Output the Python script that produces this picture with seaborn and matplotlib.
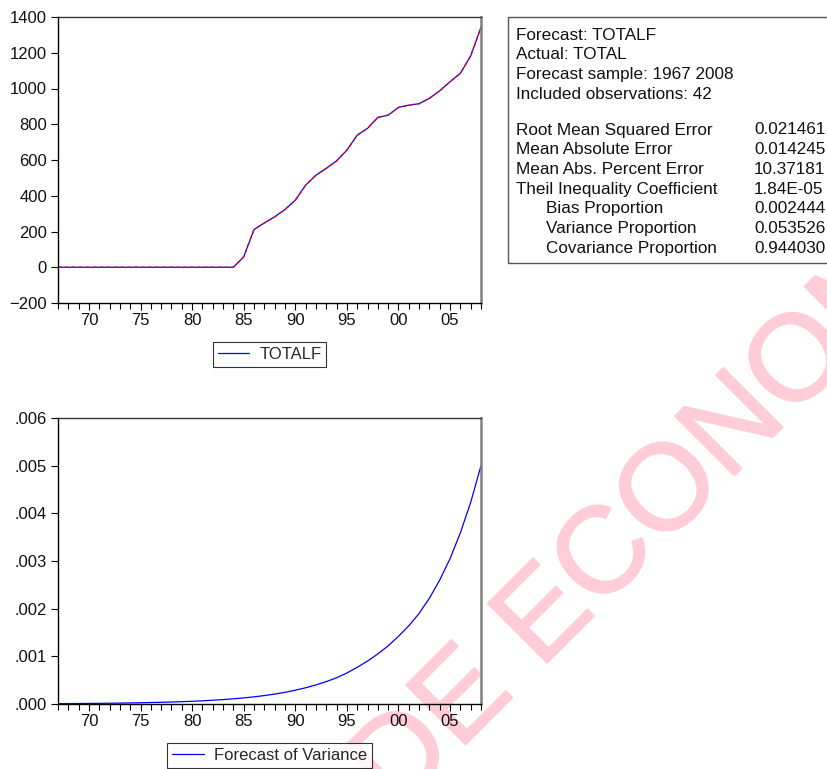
import numpy as np
import pandas as pd
import matplotlib
matplotlib.use("Agg")
import matplotlib.pyplot as plt
import matplotlib.patheffects as pe
from matplotlib.ticker import MultipleLocator, FuncFormatter
from matplotlib.patches import Rectangle
import seaborn as sns

years = list(range(1967, 2009))
totalf = [0] * 18 + [58, 211, 248, 282, 323, 375, 459, 515, 553, 595, 655, 739,
                     777, 838, 851, 894, 907, 915, 945, 987, 1038, 1085, 1182, 1343]
fc_variance = [0.000008, 0.000009, 0.000010, 0.000012, 0.000014, 0.000016, 0.000019, 0.000022,
               0.000026, 0.000031, 0.000036, 0.000042, 0.000049, 0.000057, 0.000067, 0.000079,
               0.000093, 0.000109, 0.000128, 0.000150, 0.000177, 0.000208, 0.000245, 0.000290,
               0.000340, 0.000400, 0.000470, 0.000550, 0.000650, 0.000770, 0.000900, 0.001050,
               0.001220, 0.001420, 0.001640, 0.001900, 0.002220, 0.002600, 0.003050, 0.003590,
               0.004230, 0.005000]

stats_head = ["Forecast: TOTALF", "Actual: TOTAL", "Forecast sample: 1967 2008",
              "Included observations: 42"]
stats_names = ["Root Mean Squared Error", "Mean Absolute Error", "Mean Abs. Percent Error",
               "Theil Inequality Coefficient", "Bias Proportion", "Variance Proportion",
               "Covariance Proportion"]
stats_values = ["0.021461", "0.014245", "10.37181", "1.84E-05", "0.002444", "0.053526",
                "0.944030"]
stats_indent = [False, False, False, False, True, True, True]

df = pd.DataFrame({"year": years, "TOTALF": totalf, "variance": fc_variance})

sns.set_theme(style="white")
plt.rcParams["font.family"] = ["Liberation Sans", "DejaVu Sans"]

W, H = 827, 769
fig = plt.figure(figsize=(W / 100, H / 100), dpi=100)


def px_axes(x0, y0, x1, y1):
    return fig.add_axes([x0 / W, 1 - y1 / H, (x1 - x0) / W, (y1 - y0) / H])


def style_axes(ax):
    ax.set_facecolor("none")
    ax.set_xlim(1967, 2008)
    ax.xaxis.set_major_locator(MultipleLocator(5))
    ax.xaxis.set_minor_locator(MultipleLocator(1))
    ax.xaxis.set_major_formatter(FuncFormatter(lambda v, p: "%02d" % (int(round(v)) % 100)))
    ax.tick_params(axis="both", which="major", direction="out", length=5, width=0.8,
                   color="black", labelsize=12, labelcolor="#111111", pad=3, bottom=True, left=True)
    ax.tick_params(axis="x", which="minor", direction="out", length=4, width=0.8,
                   color="black", bottom=True)
    ax.tick_params(axis="x", which="major", pad=2.5)
    for s in ["left", "bottom"]:
        ax.spines[s].set_color("black")
        ax.spines[s].set_linewidth(1.0)
    ax.spines["top"].set_color("#333333")
    ax.spines["top"].set_linewidth(1.0)
    ax.spines["right"].set_color("#808080")
    ax.spines["right"].set_linewidth(1.8)
    ax.set_xlabel("")
    ax.set_ylabel("")


def add_legend(ax):
    leg = ax.legend(loc="upper center", bbox_to_anchor=(0.5, -0.107), frameon=True, fontsize=12,
                    handlelength=1.9, borderpad=0.3, fancybox=False, handletextpad=0.6)
    leg.get_frame().set_edgecolor("black")
    leg.get_frame().set_linewidth(0.8)


# top panel: forecast
ax1 = px_axes(58, 17, 481, 303)
sns.lineplot(data=df, x="year", y="TOTALF", ax=ax1, color="#0000FF", linewidth=0.9,
             label="TOTALF")
sns.lineplot(data=df, x="year", y="TOTALF", ax=ax1, color="#FF0000", linewidth=1.0,
             linestyle=(0, (2.5, 2.5)), legend=False)
ax1.set_ylim(-200, 1400)
ax1.yaxis.set_major_locator(MultipleLocator(200))
style_axes(ax1)
add_legend(ax1)

# bottom panel: forecast variance
ax2 = px_axes(58, 418, 481, 704)
sns.lineplot(data=df, x="year", y="variance", ax=ax2, color="#0000FF", linewidth=0.9,
             label="Forecast of Variance")
ax2.set_ylim(0, 0.006)
ax2.yaxis.set_major_locator(MultipleLocator(0.001))
ax2.yaxis.set_major_formatter(FuncFormatter(lambda v, p: ("%.3f" % v)[1:]))
style_axes(ax2)
add_legend(ax2)

# statistics box
fig.patches.append(Rectangle((508 / W, 1 - 263 / H), 1.0, (263 - 17) / H,
                             transform=fig.transFigure, fill=False, edgecolor="#555555",
                             linewidth=1.0))
fs = 12.3
y = 35
for line in stats_head:
    fig.text(516 / W, 1 - y / H, line, fontsize=fs, va="center", ha="left", color="#111111")
    y += 19.7
y = 130
for name, val, ind in zip(stats_names, stats_values, stats_indent):
    fig.text((546 if ind else 516) / W, 1 - y / H, name, fontsize=fs, va="center",
             ha="left", color="#111111")
    fig.text(754 / W, 1 - y / H, val, fontsize=fs, va="center", ha="left", color="#111111")
    y += 19.7

# watermark
wm_color = "#FFCDD8"
fig.text(396 / W, 1 - 814 / H, "DE ECONOMIA", fontsize=88, color=wm_color, rotation=45,
         rotation_mode="anchor", ha="left", va="baseline", zorder=-1,
         path_effects=[pe.withStroke(linewidth=1.3, foreground=wm_color)])

fig.savefig("out.png", dpi=100)
